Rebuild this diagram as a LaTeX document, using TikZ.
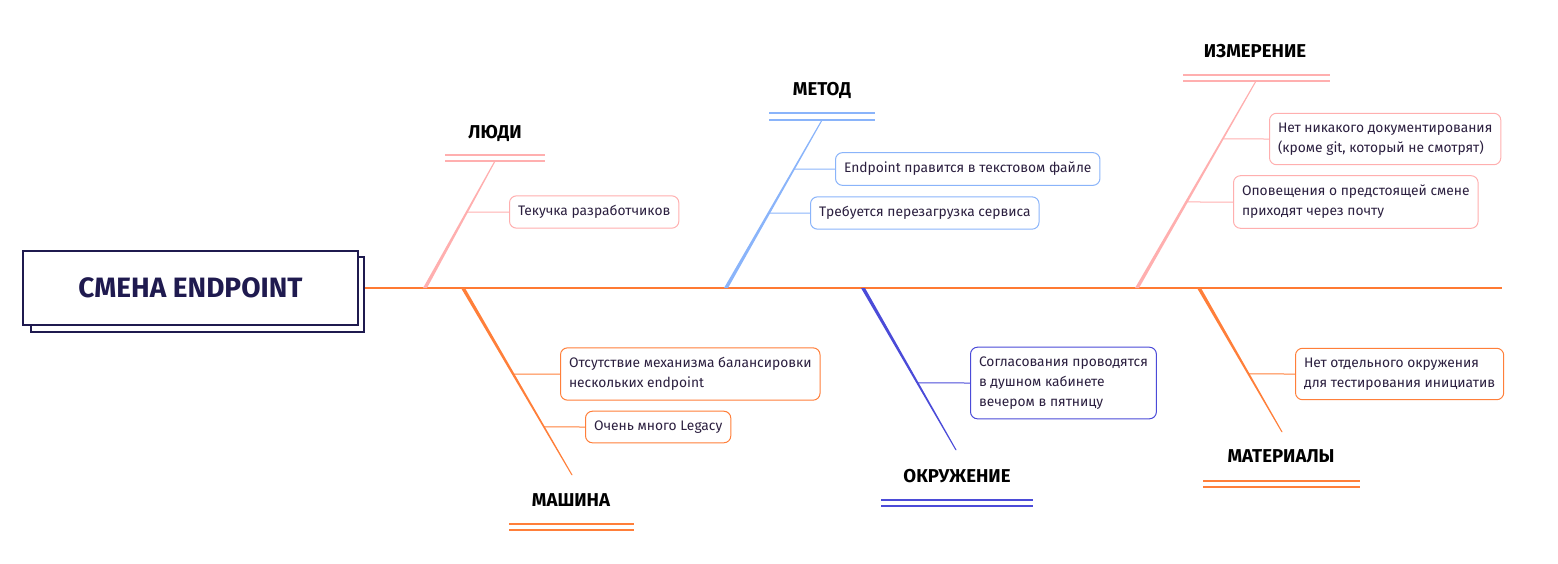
\documentclass[tikz,border=0pt]{standalone}
\usepackage{fontspec}
\setmainfont{Fira Sans}
\usetikzlibrary{calc}
\definecolor{navy}{HTML}{1F1A4F}
\definecolor{spine}{HTML}{FF7A33}
\definecolor{cpink}{HTML}{FFAFAF}
\definecolor{clblue}{HTML}{8AB4FA}
\definecolor{corange}{HTML}{FF7F3A}
\definecolor{cblue}{HTML}{4B4BD8}
\definecolor{boxtext}{HTML}{2B1F3F}
\tikzset{
  causebox/.style={draw=#1, line width=1pt, rounded corners=7pt, fill=white,
    anchor=west, align=left, inner xsep=8.5pt, inner ysep=9.5pt,
    text=boxtext, font=\fontsize{13.8}{20}\selectfont},
  catlabel/.style={font=\fontsize{18.6}{20}\selectfont\bfseries, text=black},
  twin/.style={draw=#1, line width=1.2pt},
  sub/.style={draw=#1, line width=1pt},
}
\newcommand{\bone}[3]{% color, top, bottom
  \fill[#1] ([xshift=-0.6pt]#2) -- ([xshift=0.6pt]#2) -- ([xshift=2pt]#3) -- ([xshift=-2pt]#3) -- cycle;}
\begin{document}
\begin{tikzpicture}[x=1pt,y=-1pt]
\useasboundingbox (0,0) rectangle (1558,563);
% head
\node[draw=navy, line width=2.6pt, fill=white, minimum width=333pt, minimum height=75pt] (shadow) at (197.5,294.5) {};
\node[draw=navy, line width=2.6pt, fill=white, minimum width=335pt, minimum height=74pt,
  font=\fontsize{28}{30}\selectfont\bfseries, text=navy] (head) at (190.5,288) {СМЕНА ENDPOINT};
% spine
\coordinate (spineEnd) at (1502,288);
\draw[spine, line width=2pt] (shadow.east |- head.center) -- (spineEnd);

% ---- ЛЮДИ
\node[catlabel] (lLyudi) at (495,133) {ЛЮДИ};
\coordinate (tLyudi) at (495,161);
\coordinate (bLyudi) at (425,288);
\draw[twin=cpink] (445,155) -- (545,155) (445,161) -- (545,161);
\bone{cpink}{tLyudi}{bLyudi}
\node[causebox=cpink] (c1) at (509,212) {Текучка разработчиков};
\draw[sub=cpink] ($(tLyudi)!0.4016!(bLyudi)$) -- (c1.west);

% ---- МЕТОД
\node[catlabel] (lMetod) at (822,90) {МЕТОД};
\coordinate (tMetod) at (822,120);
\coordinate (bMetod) at (726,288);
\draw[twin=clblue] (769,113) -- (875,113) (769,120) -- (875,120);
\bone{clblue}{tMetod}{bMetod}
\node[causebox=clblue] (c2) at (835,169) {Endpoint правится в текстовом файле};
\node[causebox=clblue] (c3) at (810,213) {Требуется перезагрузка сервиса};
\draw[sub=clblue] ($(tMetod)!0.2917!(bMetod)$) -- (c2.west);
\draw[sub=clblue] ($(tMetod)!0.5536!(bMetod)$) -- (c3.west);

% ---- ИЗМЕРЕНИЕ
\node[catlabel] (lIzm) at (1255,51) {ИЗМЕРЕНИЕ};
\coordinate (tIzm) at (1256,81);
\coordinate (bIzm) at (1137,288);
\draw[twin=cpink] (1183,75) -- (1330,75) (1183,81) -- (1330,81);
\bone{cpink}{tIzm}{bIzm}
\node[causebox=cpink] (c4) at (1269,139) {Нет никакого документирования\\(кроме git, который не смотрят)};
\node[causebox=cpink] (c5) at (1233,202) {Оповещения о предстоящей смене\\приходят через почту};
\draw[sub=cpink] ($(tIzm)!0.280!(bIzm)$) -- (c4.west);
\draw[sub=cpink] ($(tIzm)!0.5845!(bIzm)$) -- (c5.west);

% ---- МАШИНА
\node[catlabel] (lMash) at (571,500) {МАШИНА};
\coordinate (tMash) at (572,475);
\coordinate (bMash) at (463,288);
\draw[twin=corange] (509,524) -- (634,524) (509,530) -- (634,530);
\bone{corange}{tMash}{bMash}
\node[causebox=corange] (c6) at (560,374) {Отсутствие механизма балансировки\\нескольких endpoint};
\node[causebox=corange] (c7) at (585,427) {Очень много Legacy};
\draw[sub=corange] ($(bMash)!0.46!(tMash)$) -- (c6.west);
\draw[sub=corange] ($(bMash)!0.743!(tMash)$) -- (c7.west);

% ---- ОКРУЖЕНИЕ
\node[catlabel] (lOkr) at (957,476) {ОКРУЖЕНИЕ};
\coordinate (tOkr) at (956,450);
\coordinate (bOkr) at (863,288);
\draw[twin=cblue] (881,500) -- (1033,500) (881,506) -- (1033,506);
\bone{cblue}{tOkr}{bOkr}
\node[causebox=cblue] (c8) at (970,383) {Согласования проводятся\\в душном кабинете\\вечером в пятницу};
\draw[sub=cblue] ($(bOkr)!0.586!(tOkr)$) -- (c8.west);

% ---- МАТЕРИАЛЫ
\node[catlabel] (lMat) at (1281,456) {МАТЕРИАЛЫ};
\coordinate (tMat) at (1282,432);
\coordinate (bMat) at (1199,288);
\draw[twin=corange] (1203,481) -- (1360,481) (1203,487) -- (1360,487);
\bone{corange}{tMat}{bMat}
\node[causebox=corange] (c9) at (1295,374) {Нет отдельного окружения\\для тестирования инициатив};
\draw[sub=corange] ($(bMat)!0.597!(tMat)$) -- (c9.west);
\end{tikzpicture}
\end{document}
